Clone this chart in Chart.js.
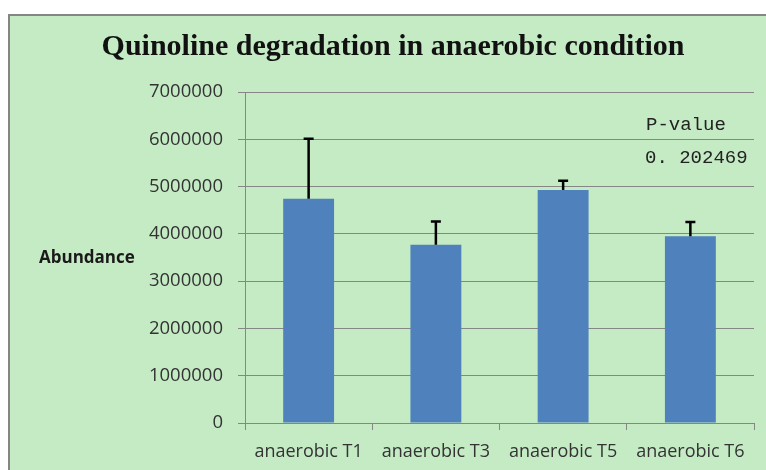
<!DOCTYPE html>
<html>
<head>
<meta charset="utf-8">
<script src="https://cdn.jsdelivr.net/npm/chart.js@4/dist/chart.umd.min.js"></script>
<style>
  html, body { margin: 0; padding: 0; background: #ffffff; }
  #panel {
    position: absolute; left: 8px; top: 14px;
    width: 756px; height: 454px;
    border-left: 2px solid #858585; border-top: 2px solid #858585;
    background: #c5ebc5;
  }
  #panel canvas { display: block; }
</style>
</head>
<body>
<div id="panel"><canvas id="chart" width="756" height="454"></canvas></div>
<script>
// Data
const categories = ['anaerobic T1', 'anaerobic T3', 'anaerobic T5', 'anaerobic T6'];
const abundance = [4740000, 3770000, 4930000, 3950000];
const errorPlus = [1270000, 490000, 195000, 300000];
const yTicks = [0, 1000000, 2000000, 3000000, 4000000, 5000000, 6000000, 7000000];
const pValueLabel = 'P-value';
const pValue = '0. 202469';

const textColor = '#333333';
const lineColor = '#868686';

// Upward error bars drawn from the data through the y scale
const errorBars = {
    id: 'errorBars',
    afterDatasetsDraw(chart) {
        const ctx = chart.ctx;
        const meta = chart.getDatasetMeta(0);
        const y = chart.scales.y;
        ctx.save();
        ctx.strokeStyle = '#000000';
        ctx.lineWidth = 2.5;
        meta.data.forEach((bar, i) => {
            const top = y.getPixelForValue(abundance[i] + errorPlus[i]);
            ctx.beginPath();
            ctx.moveTo(bar.x, bar.y);
            ctx.lineTo(bar.x, top);
            ctx.moveTo(bar.x - 5, top);
            ctx.lineTo(bar.x + 5, top);
            ctx.stroke();
        });
        ctx.restore();
    }
};

// Horizontal axis title and the P-value text box
const extraText = {
    id: 'extraText',
    afterDraw(chart) {
        const ctx = chart.ctx;
        const area = chart.chartArea;
        ctx.save();
        ctx.fillStyle = '#1a1a1a';
        ctx.font = 'bold 17px "Open Sans"';
        ctx.textAlign = 'left';
        ctx.textBaseline = 'middle';
        ctx.fillText('Abundance', 29, 242);

        ctx.fillStyle = '#222222';
        ctx.font = '19px "Liberation Mono"';
        ctx.fillText(pValueLabel, area.right - 108, 109);
        ctx.fillText(pValue, area.right - 109, 142);
        ctx.restore();
    }
};

new Chart(document.getElementById('chart'), {
    type: 'bar',
    data: {
        labels: categories,
        datasets: [{
            data: abundance,
            backgroundColor: '#4f81bd',
            borderWidth: 0,
            barPercentage: 1,
            categoryPercentage: 0.4
        }]
    },
    options: {
        responsive: false,
        animation: false,
        layout: { padding: { top: 0, right: 12, bottom: 0, left: 22 } },
        plugins: {
            legend: { display: false },
            tooltip: { enabled: false },
            title: {
                display: true,
                text: 'Quinoline degradation in anaerobic condition',
                color: '#111111',
                font: { family: '"Liberation Serif"', size: 30, weight: 'bold' },
                padding: { top: 13, bottom: 27 }
            }
        },
        scales: {
            x: {
                grid: {
                    drawOnChartArea: false,
                    drawTicks: true,
                    tickLength: 7,
                    color: lineColor
                },
                border: { color: lineColor },
                ticks: {
                    color: textColor,
                    font: { family: '"Open Sans"', size: 18 },
                    padding: 11,
                    maxRotation: 0
                },
                afterFit(scale) { scale.height = 47; }
            },
            y: {
                min: 0,
                max: 7000000,
                afterBuildTicks(scale) {
                    scale.ticks = yTicks.map(v => ({ value: v }));
                },
                grid: {
                    color: lineColor,
                    tickLength: 7
                },
                border: { color: lineColor },
                ticks: {
                    color: textColor,
                    font: { family: '"Open Sans"', size: 18.5 },
                    padding: 15,
                    callback: v => String(v)
                },
                afterFit(scale) { scale.width = 213; }
            }
        }
    },
    plugins: [errorBars, extraText]
});
</script>
</body>
</html>
